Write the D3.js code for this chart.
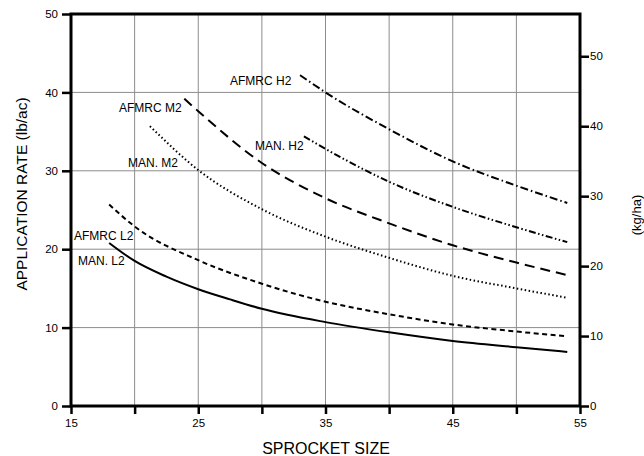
<!DOCTYPE html>
<head>
  <meta charset="utf-8" />
  <script src="https://cdn.jsdelivr.net/npm/d3@7"></script>
  <style>
    body { margin: 0; background: #fff; }
    svg text { font-family: "Liberation Sans", Arial, sans-serif; fill: #000; }
  </style>
</head>
<body>
  <svg class="chart" width="644" height="456"></svg>
  <script>
    // values (sprocket size -> lb/ac)
    const manL2X = [18, 20, 22.5, 25, 27.5, 30, 35, 40, 45, 50, 54];
    const manL2Y = [20.8, 18.5, 16.5, 14.9, 13.6, 12.4, 10.7, 9.4, 8.3, 7.5, 6.9];
    const afmrcL2X = [18, 20, 25, 30, 35, 40, 45, 50, 54];
    const afmrcL2Y = [25.7, 22.9, 18.6, 15.6, 13.3, 11.7, 10.4, 9.5, 8.9];
    const manM2X = [21.2, 25, 30, 35, 40, 45, 50, 54];
    const manM2Y = [35.7, 30.1, 25.1, 21.6, 18.9, 16.6, 15.0, 13.8];
    const afmrcM2X = [23.9, 25, 30, 35, 40, 45, 50, 54];
    const afmrcM2Y = [39.2, 37.6, 31.0, 26.5, 23.3, 20.5, 18.3, 16.7];
    const afmrcH2X = [33, 35, 40, 45, 50, 54];
    const afmrcH2Y = [42.2, 40.0, 35.3, 31.2, 28.1, 25.9];
    const manH2X = [33.3, 35, 40, 45, 50, 54];
    const manH2Y = [34.4, 32.8, 28.6, 25.4, 22.8, 20.9];

    const xTicks = [15, 20, 25, 30, 35, 40, 45, 50, 55];
    const xLabels = [15, 25, 35, 45, 55];
    const yTicks = [0, 10, 20, 30, 40, 50];
    const kgTicks = [0, 10, 20, 30, 40, 50];
    const lbToKg = 1.12085;

    const series = [
      { name: "MAN. L2", xs: manL2X, ys: manL2Y, dash: null, lx: 78, ly: 265 },
      { name: "AFMRC L2", xs: afmrcL2X, ys: afmrcL2Y, dash: "5,3.5", lx: 74, ly: 240 },
      { name: "MAN. M2", xs: manM2X, ys: manM2Y, dash: "1.5,2.5", lx: 128, ly: 167 },
      { name: "AFMRC M2", xs: afmrcM2X, ys: afmrcM2Y, dash: "10,6", lx: 119, ly: 112 },
      { name: "AFMRC H2", xs: afmrcH2X, ys: afmrcH2Y, dash: "8,3,1.5,3", lx: 230, ly: 85 },
      { name: "MAN. H2", xs: manH2X, ys: manH2Y, dash: "7,2.5,1.5,2.5,1.5,2.5", lx: 255, ly: 150 }
    ];

    const svg = d3.select(".chart");
    const x = d3.scaleLinear().domain([15, 55]).range([71, 580]);
    const y = d3.scaleLinear().domain([0, 50]).range([406, 14]);
    const yKg = d3.scaleLinear().domain([0, 50 * lbToKg]).range([406, 14]);

    // grid
    svg.append("g")
      .selectAll("line")
      .data(xTicks.slice(1, -1))
      .enter()
      .append("line")
      .attr("x1", (d) => x(d)).attr("x2", (d) => x(d))
      .attr("y1", y(50)).attr("y2", y(0))
      .attr("stroke", "#8c8c8c").attr("stroke-width", 1);
    svg.append("g")
      .selectAll("line")
      .data(yTicks.slice(1, -1))
      .enter()
      .append("line")
      .attr("x1", x(15)).attr("x2", x(55))
      .attr("y1", (d) => y(d)).attr("y2", (d) => y(d))
      .attr("stroke", "#8c8c8c").attr("stroke-width", 1);

    // axes
    const styleAxis = (g) => {
      g.select(".domain").remove();
      g.selectAll(".tick line").attr("stroke", "#000").attr("stroke-width", 2.5);
      g.selectAll(".tick text").attr("font-size", 11.5).attr("fill", "#000");
    };
    svg.append("g")
      .attr("transform", `translate(${x(15)},0)`)
      .call(d3.axisLeft(y).tickValues(yTicks).tickSize(9).tickPadding(4))
      .call(styleAxis);
    svg.append("g")
      .attr("transform", `translate(0,${y(0)})`)
      .call(d3.axisBottom(x).tickValues(xTicks).tickSize(8).tickPadding(5)
        .tickFormat((d) => (xLabels.includes(d) ? d : "")))
      .call(styleAxis);
    svg.append("g")
      .attr("transform", `translate(${x(55)},0)`)
      .call(d3.axisRight(yKg).tickValues(kgTicks).tickSize(9).tickPadding(1))
      .call(styleAxis);

    // frame
    svg.append("rect")
      .attr("x", x(15)).attr("y", y(50))
      .attr("width", x(55) - x(15)).attr("height", y(0) - y(50))
      .attr("fill", "none").attr("stroke", "#000").attr("stroke-width", 3);

    // curves
    const line = d3.line()
      .x((d) => x(d[0]))
      .y((d) => y(d[1]))
      .curve(d3.curveMonotoneX);
    svg.append("g")
      .selectAll("path")
      .data(series)
      .enter()
      .append("path")
      .attr("d", (s) => line(s.xs.map((v, i) => [v, s.ys[i]])))
      .attr("fill", "none")
      .attr("stroke", "#000")
      .attr("stroke-width", 2)
      .attr("stroke-dasharray", (s) => s.dash);

    svg.append("g")
      .selectAll("text")
      .data(series)
      .enter()
      .append("text")
      .attr("x", (s) => s.lx)
      .attr("y", (s) => s.ly)
      .attr("font-size", 12)
      .text((s) => s.name);

    // titles
    svg.append("text")
      .attr("transform", "translate(27,194) rotate(-90)")
      .attr("text-anchor", "middle")
      .attr("font-size", 15.5)
      .text("APPLICATION RATE (lb/ac)");
    svg.append("text")
      .attr("x", 326).attr("y", 454)
      .attr("text-anchor", "middle")
      .attr("font-size", 16)
      .text("SPROCKET SIZE");
    svg.append("text")
      .attr("transform", "translate(641,215) rotate(-90)")
      .attr("text-anchor", "middle")
      .attr("font-size", 13)
      .text("(kg/ha)");
  </script>
</body>
